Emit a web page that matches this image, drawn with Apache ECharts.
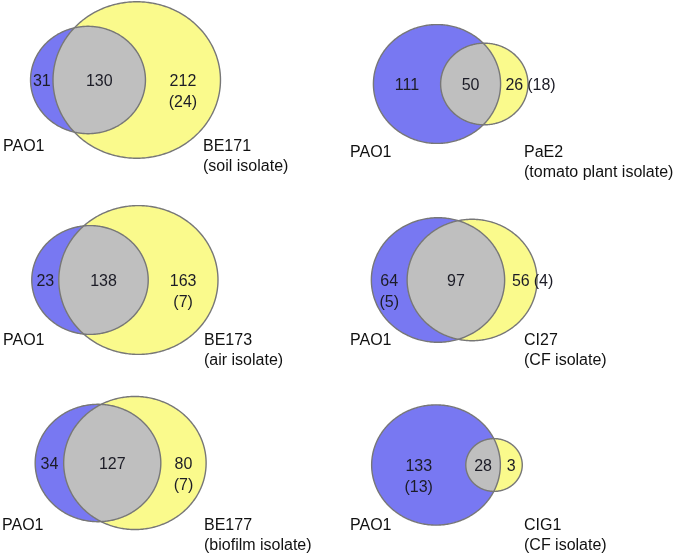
<!DOCTYPE html>
<html>
<head>
<meta charset="utf-8">
<script src="https://cdn.jsdelivr.net/npm/echarts@6/dist/echarts.min.js"></script>
<style>
  html, body { margin: 0; padding: 0; background: #fff; }
  #chart { width: 680px; height: 556px; }
</style>
</head>
<body>
<div id="chart"></div>
<script>
// gene counts per comparison: PAO1 vs each isolate
const isolates = ['BE171', 'PaE2', 'BE173', 'CI27', 'BE177', 'CIG1'];
const sources = ['(soil isolate)', '(tomato plant isolate)', '(air isolate)', '(CF isolate)', '(biofilm isolate)', '(CF isolate)'];
const pao1Only = [31, 111, 23, 64, 34, 133];
const shared = [130, 50, 138, 97, 127, 28];
const isolateOnly = [212, 26, 163, 56, 80, 3];
const pao1OnlyParen = [null, null, null, 5, null, 13];
const isolateOnlyParen = [24, 18, 7, 4, 7, null];

// layout of the six small panels
const cells = [[0, 0], [340, 0], [0, 185], [340, 185], [0, 370], [340, 370]];
const cellW = 340;
const cellH = [185, 185, 185, 185, 186, 186];
const pao1Anchor = [[88, 80], [437, 84], [90, 280], [438, 280], [98, 463], [436, 465]];
const pxPerUnit = [7.5, 8.3, 7.6, 8.7, 8.2, 8.4];
// the original figure is hand drawn, so the circle gap is only roughly area-true
const gapOffsetPx = [0, 0, 9.5, -6, 5, 14.5];
const parenInline = [false, true, false, true, false, false];
const labelY = [147, 153, 341, 341, 526, 526];
const leftLabelX = [3, 350, 3, 350, 2, 350];
const rightLabelX = [203, 524, 204, 524, 204, 524];
const ASPECT = 1.07;

const BLUE = '#7878f2';
const YELLOW = '#fafa8c';
const GREY = '#bfbfbf';
const EDGE = '#777777';
const NUM_FONT = '16px "Liberation Sans", Arial, sans-serif';
const NAME_FONT = '16px "Liberation Sans", Arial, sans-serif';

function lensArea(r1, r2, d) {
  if (d >= r1 + r2) return 0;
  if (d <= Math.abs(r1 - r2)) return Math.PI * Math.min(r1, r2) ** 2;
  const a1 = Math.acos((d * d + r1 * r1 - r2 * r2) / (2 * d * r1));
  const a2 = Math.acos((d * d + r2 * r2 - r1 * r1) / (2 * d * r2));
  const t = Math.sqrt((-d + r1 + r2) * (d + r1 - r2) * (d - r1 + r2) * (d + r1 + r2));
  return r1 * r1 * a1 + r2 * r2 * a2 - 0.5 * t;
}

// distance between centres so that the overlap area equals the shared count
function centreGap(r1, r2, area) {
  let lo = Math.abs(r1 - r2), hi = r1 + r2;
  for (let i = 0; i < 60; i++) {
    const mid = (lo + hi) / 2;
    if (lensArea(r1, r2, mid) > area) lo = mid; else hi = mid;
  }
  return (lo + hi) / 2;
}

function ellipsePts(c, r, n) {
  const pts = [];
  for (let j = 0; j < n; j++) {
    const t = 2 * Math.PI * j / n;
    pts.push([c[0] + r[0] * Math.cos(t), c[1] + r[1] * Math.sin(t)]);
  }
  return pts;
}
function inside(p, c, r) {
  const dx = (p[0] - c[0]) / r[0], dy = (p[1] - c[1]) / r[1];
  return dx * dx + dy * dy <= 1.000001;
}

function txt(x, y, s, align) {
  return {
    type: 'text', x: x, y: y,
    style: {
      text: s, fill: '#1c1c26', font: NUM_FONT,
      align: align || 'center', textAlign: align || 'center',
      verticalAlign: 'middle', textVerticalAlign: 'middle'
    }
  };
}

const grids = [], xAxes = [], yAxes = [], series = [], graphics = [];

isolates.forEach((name, i) => {
  const k = pxPerUnit[i], kx = k * ASPECT;
  const [x0, y0] = cells[i];
  const [ax, ay] = pao1Anchor[i];
  grids.push({ left: x0, top: y0, width: cellW, height: cellH[i] });
  xAxes.push({ type: 'value', gridIndex: i, show: false,
    min: (x0 - ax) / kx, max: (x0 + cellW - ax) / kx });
  yAxes.push({ type: 'value', gridIndex: i, show: false,
    min: -(y0 + cellH[i] - ay) / k, max: (ay - y0) / k });

  const totA = pao1Only[i] + shared[i];
  const totB = isolateOnly[i] + shared[i];
  const rA = Math.sqrt(totA / Math.PI);
  const rB = Math.sqrt(totB / Math.PI);
  const d = centreGap(rA, rB, shared[i]) + gapOffsetPx[i] / kx;

  series.push({
    type: 'custom',
    xAxisIndex: i, yAxisIndex: i,
    silent: true,
    data: [[0, 0, d, rA, rB]],
    renderItem: (params, api) => {
      const bc = api.coord([0, 0]);
      const yc = api.coord([api.value(2), 0]);
      const rb = api.size([api.value(3), api.value(3)]);
      const ry = api.size([api.value(4), api.value(4)]);
      const bluePts = ellipsePts(bc, rb, 360);
      const yelPts = ellipsePts(yc, ry, 360);
      let lens = bluePts.filter(p => inside(p, yc, ry)).concat(yelPts.filter(p => inside(p, bc, rb)));
      const cx = lens.reduce((s, p) => s + p[0], 0) / lens.length;
      const cy = lens.reduce((s, p) => s + p[1], 0) / lens.length;
      lens.sort((a, b) => Math.atan2(a[1] - cy, a[0] - cx) - Math.atan2(b[1] - cy, b[0] - cx));

      const children = [
        { type: 'polygon', shape: { points: bluePts }, style: { fill: BLUE } },
        { type: 'polygon', shape: { points: yelPts }, style: { fill: YELLOW } },
        { type: 'polygon', shape: { points: lens }, style: { fill: GREY } },
        { type: 'polygon', shape: { points: bluePts }, style: { fill: 'none', stroke: EDGE, lineWidth: 1.4 } },
        { type: 'polygon', shape: { points: yelPts }, style: { fill: 'none', stroke: EDGE, lineWidth: 1.4 } }
      ];

      const bL = bc[0] - rb[0], bR = bc[0] + rb[0];
      const yL = yc[0] - ry[0], yR = yc[0] + ry[0];
      const ty = bc[1] + 2;
      const xLeft = (bL + yL) / 2;
      const xMid = (yL + Math.min(bR, yR)) / 2;
      const xRight = (bR + yR) / 2;

      children.push(txt(xLeft, ty, String(pao1Only[i])));
      if (pao1OnlyParen[i] != null) children.push(txt(xLeft, ty + 21, '(' + pao1OnlyParen[i] + ')'));
      children.push(txt(xMid, ty, String(shared[i])));
      children.push(txt(xRight, ty, String(isolateOnly[i])));
      if (isolateOnlyParen[i] != null) {
        const p = '(' + isolateOnlyParen[i] + ')';
        if (parenInline[i]) {
          const w = String(isolateOnly[i]).length * 8.9;
          children.push(txt(xRight + w / 2 + 4, ty, p, 'left'));
        } else {
          children.push(txt(xRight, ty + 21, p));
        }
      }
      return { type: 'group', children: children };
    }
  });

  const nameStyle = (s) => ({ text: s, fill: '#111', font: NAME_FONT,
    align: 'left', textAlign: 'left', verticalAlign: 'middle', textVerticalAlign: 'middle' });
  graphics.push({ type: 'text', x: leftLabelX[i], y: labelY[i], style: nameStyle('PAO1') });
  graphics.push({ type: 'text', x: rightLabelX[i], y: labelY[i], style: nameStyle(name) });
  graphics.push({ type: 'text', x: rightLabelX[i], y: labelY[i] + 20, style: nameStyle(sources[i]) });
});

const chart = echarts.init(document.getElementById('chart'), null, { renderer: 'canvas' });
chart.setOption({
  animation: false,
  backgroundColor: '#fff',
  grid: grids,
  xAxis: xAxes,
  yAxis: yAxes,
  series: series,
  graphic: { elements: graphics }
});
</script>
</body>
</html>
